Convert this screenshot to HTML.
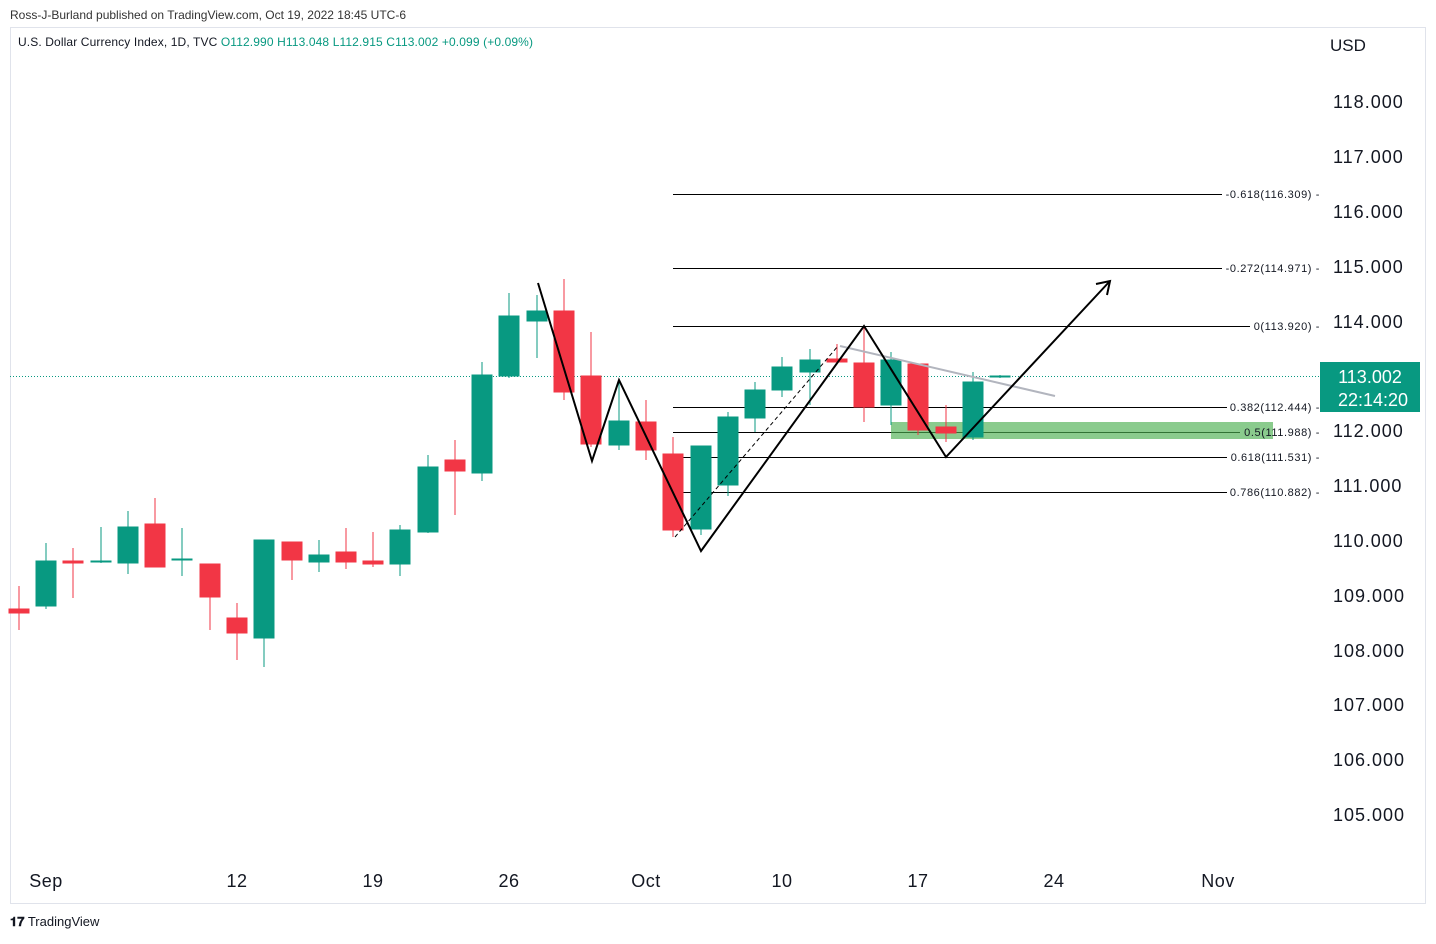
<!DOCTYPE html>
<html><head><meta charset="utf-8"><style>
body{margin:0;background:#fff;width:1436px;height:939px;overflow:hidden;font-family:"Liberation Sans",sans-serif}
</style></head><body>
<svg width="1436" height="939" xmlns="http://www.w3.org/2000/svg" font-family="Liberation Sans, sans-serif">
<text x="10" y="19" font-size="12" fill="#333">Ross-J-Burland published on TradingView.com, Oct 19, 2022 18:45 UTC-6</text>
<rect x="10.5" y="27.5" width="1415" height="876" fill="none" stroke="#e0e3eb"/>
<text x="18" y="46" font-size="12" fill="#131722" letter-spacing="0.12">U.S. Dollar Currency Index, 1D, TVC <tspan fill="#089981">O112.990</tspan> <tspan fill="#089981">H113.048</tspan> <tspan fill="#089981">L112.915</tspan> <tspan fill="#089981">C113.002</tspan> <tspan fill="#089981">+0.099 (+0.09%)</tspan></text>
<text x="1330" y="51" font-size="17" fill="#131722">USD</text>
<g font-size="18" fill="#131722" letter-spacing="1">
<text x="1333" y="108">118.000</text><text x="1333" y="163">117.000</text><text x="1333" y="218">116.000</text>
<text x="1333" y="273">115.000</text><text x="1333" y="328">114.000</text><text x="1333" y="437">112.000</text>
<text x="1333" y="492">111.000</text><text x="1333" y="547">110.000</text><text x="1333" y="602">109.000</text>
<text x="1333" y="657">108.000</text><text x="1333" y="711">107.000</text><text x="1333" y="766">106.000</text><text x="1333" y="821">105.000</text>
</g>
<g font-size="18" fill="#131722" text-anchor="middle" letter-spacing="0.5">
<text x="46" y="887">Sep</text><text x="237" y="887">12</text><text x="373" y="887">19</text><text x="509" y="887">26</text>
<text x="646" y="887">Oct</text><text x="782" y="887">10</text><text x="918" y="887">17</text><text x="1054" y="887">24</text><text x="1218" y="887">Nov</text>
</g>
<line x1="10" y1="376.5" x2="1320" y2="376.5" stroke="#089981" stroke-dasharray="1,2"/>
<g stroke="#000" stroke-width="1">
<line x1="673" y1="194.5" x2="1222" y2="194.5"/><line x1="673" y1="268.5" x2="1222" y2="268.5"/>
<line x1="673" y1="326.5" x2="1250" y2="326.5"/><line x1="673" y1="407.5" x2="1227" y2="407.5"/>
<line x1="673" y1="432.5" x2="1240" y2="432.5"/><line x1="673" y1="457.5" x2="1227" y2="457.5"/>
<line x1="673" y1="492.5" x2="1227" y2="492.5"/>
</g>
<rect x="891" y="422" width="382" height="17" fill="#4caf50" fill-opacity="0.65"/>
<g font-size="11" fill="#131722" text-anchor="end" letter-spacing="0.6">
<text x="1320" y="198">-0.618(116.309) -</text><text x="1320" y="272">-0.272(114.971) -</text>
<text x="1320" y="330">0(113.920) -</text><text x="1320" y="411">0.382(112.444) -</text>
<text x="1320" y="436">0.5(111.988) -</text><text x="1320" y="461">0.618(111.531) -</text>
<text x="1320" y="496">0.786(110.882) -</text>
</g>
<g stroke="#f23645" fill="#f23645">
<line x1="19" y1="586" x2="19" y2="630"/><rect x="9" y="609" width="20" height="4"/>
<line x1="73" y1="548" x2="73" y2="598"/><rect x="63" y="561" width="20" height="2"/>
<line x1="155" y1="498" x2="155" y2="567"/><rect x="145" y="524" width="20" height="43"/>
<line x1="210" y1="564" x2="210" y2="630"/><rect x="200" y="564" width="20" height="33"/>
<line x1="237" y1="603" x2="237" y2="660"/><rect x="227" y="618" width="20" height="15"/>
<line x1="292" y1="542" x2="292" y2="580"/><rect x="282" y="542" width="20" height="18"/>
<line x1="346" y1="528" x2="346" y2="569"/><rect x="336" y="552" width="20" height="10"/>
<line x1="373" y1="532" x2="373" y2="567"/><rect x="363" y="561" width="20" height="3"/>
<line x1="455" y1="440" x2="455" y2="515"/><rect x="445" y="460" width="20" height="11"/>
<line x1="564" y1="279" x2="564" y2="400"/><rect x="554" y="311" width="20" height="81"/>
<line x1="591" y1="332" x2="591" y2="447"/><rect x="581" y="376" width="20" height="68"/>
<line x1="646" y1="400" x2="646" y2="460"/><rect x="636" y="422" width="20" height="28"/>
<line x1="673" y1="437" x2="673" y2="537"/><rect x="663" y="454" width="20" height="76"/>
<line x1="837" y1="344" x2="837" y2="364"/><rect x="827" y="359" width="20" height="3"/>
<line x1="864" y1="327" x2="864" y2="422"/><rect x="854" y="363" width="20" height="44"/>
<line x1="918" y1="364" x2="918" y2="435"/><rect x="908" y="364" width="20" height="66"/>
<line x1="946" y1="405" x2="946" y2="442"/><rect x="936" y="427" width="20" height="6"/>
</g>
<g stroke="#089981" fill="#089981">
<line x1="46" y1="543" x2="46" y2="609"/><rect x="36" y="561" width="20" height="45"/>
<line x1="101" y1="527" x2="101" y2="563"/><rect x="91" y="561" width="20" height="1"/>
<line x1="128" y1="511" x2="128" y2="574"/><rect x="118" y="527" width="20" height="36"/>
<line x1="182" y1="528" x2="182" y2="576"/><rect x="172" y="559" width="20" height="1"/>
<line x1="264" y1="540" x2="264" y2="667"/><rect x="254" y="540" width="20" height="98"/>
<line x1="319" y1="540" x2="319" y2="572"/><rect x="309" y="555" width="20" height="7"/>
<line x1="400" y1="525" x2="400" y2="576"/><rect x="390" y="530" width="20" height="34"/>
<line x1="428" y1="455" x2="428" y2="533"/><rect x="418" y="467" width="20" height="65"/>
<line x1="482" y1="362" x2="482" y2="481"/><rect x="472" y="375" width="20" height="98"/>
<line x1="509" y1="293" x2="509" y2="378"/><rect x="499" y="316" width="20" height="60"/>
<line x1="537" y1="295" x2="537" y2="358"/><rect x="527" y="311" width="20" height="10"/>
<line x1="619" y1="382" x2="619" y2="450"/><rect x="609" y="421" width="20" height="24"/>
<line x1="701" y1="446" x2="701" y2="535"/><rect x="691" y="446" width="20" height="83"/>
<line x1="728" y1="412" x2="728" y2="496"/><rect x="718" y="417" width="20" height="68"/>
<line x1="755" y1="382" x2="755" y2="432"/><rect x="745" y="390" width="20" height="28"/>
<line x1="782" y1="357" x2="782" y2="397"/><rect x="772" y="367" width="20" height="23"/>
<line x1="810" y1="349" x2="810" y2="405"/><rect x="800" y="360" width="20" height="12"/>
<line x1="891" y1="352" x2="891" y2="425"/><rect x="881" y="360" width="20" height="45"/>
<line x1="973" y1="372" x2="973" y2="440"/><rect x="963" y="382" width="20" height="55"/>
<line x1="1000" y1="375" x2="1000" y2="378"/><rect x="990" y="376" width="20" height="1"/>
</g>
<line x1="675" y1="537" x2="838" y2="346" stroke="#000" stroke-dasharray="4,3" stroke-width="1"/>
<line x1="840" y1="346" x2="1055" y2="396" stroke="#b2b5be" stroke-width="2"/>
<polyline points="538,283 592,461 619,380 701,551 864,326 946,457 1110,281" fill="none" stroke="#000" stroke-width="2"/>
<polyline points="1096,284 1110,281 1107,295" fill="none" stroke="#000" stroke-width="2"/>
<rect x="1320" y="362" width="100" height="50" fill="#089981"/>
<text x="1370" y="383" font-size="18" fill="#fff" text-anchor="middle">113.002</text>
<text x="1373" y="406" font-size="18" fill="#fff" text-anchor="middle">22:14:20</text>
<text x="10" y="926" font-size="13" fill="#131722"><tspan font-weight="bold">𝟏𝟕</tspan> TradingView</text>
</svg>
</body></html>
